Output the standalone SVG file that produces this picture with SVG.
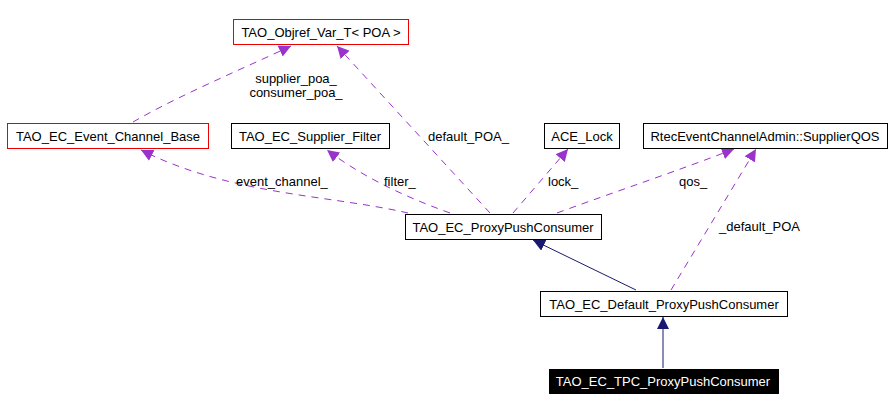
<svg xmlns="http://www.w3.org/2000/svg" width="892" height="411" viewBox="0 0 892 411">
<style>
text{font-family:"Liberation Sans",Arial,sans-serif;font-size:13px;fill:#000}
.n{fill:#fff;stroke:#000;stroke-width:1}
.r{fill:#fff;stroke:#e00;stroke-width:1}
.d{fill:none;stroke:#9a32cd;stroke-dasharray:7,6;stroke-width:1}
.s{fill:none;stroke:#191970;stroke-width:1}
</style>
<defs>
<marker id="pa" viewBox="0 0 10 10" refX="10" refY="5" markerWidth="12" markerHeight="12" markerUnits="userSpaceOnUse" orient="auto"><path d="M0,0L10,5L0,10z" fill="#9a32cd"/></marker>
<marker id="na" viewBox="0 0 10 10" refX="10" refY="5" markerWidth="12" markerHeight="12" markerUnits="userSpaceOnUse" orient="auto"><path d="M0,0L10,5L0,10z" fill="#191970"/></marker>
</defs>
<rect width="892" height="411" fill="#fff"/>
<g id="edges">
<path class="d" d="M133,122 C180,95 240,70 291,46" marker-end="url(#pa)"/>
<path class="d" d="M408,213 C330,195 230,195 141,150" marker-end="url(#pa)"/>
<path class="d" d="M450,213 C400,195 360,175 327,150" marker-end="url(#pa)"/>
<path class="d" d="M490,213 L337,46" marker-end="url(#pa)"/>
<path class="d" d="M513,213 L568,149" marker-end="url(#pa)"/>
<path class="d" d="M557,213 C620,190 680,170 734,149" marker-end="url(#pa)"/>
<path class="d" d="M671,290 L756,149" marker-end="url(#pa)"/>
<path class="s" d="M636,290 L533,240" marker-end="url(#na)"/>
<path class="s" d="M663,368 L663,317" marker-end="url(#na)"/>
<text x="296" y="83" text-anchor="middle">supplier_poa_</text>
<text x="296" y="97" text-anchor="middle">consumer_poa_</text>
<text x="236" y="186">event_channel_</text>
<text x="384" y="186">filter_</text>
<text x="428" y="141">default_POA_</text>
<text x="548" y="186">lock_</text>
<text x="679" y="186">qos_</text>
<text x="719" y="231">_default_POA</text>
</g>
<g id="objref"><rect class="r" x="233.5" y="19.5" width="175" height="25"/><text x="321" y="37" text-anchor="middle">TAO_Objref_Var_T&lt; POA &gt;</text></g>
<g id="ecbase"><rect class="r" x="7.5" y="123.5" width="201" height="25"/><text x="108" y="141" text-anchor="middle">TAO_EC_Event_Channel_Base</text></g>
<g id="filter"><rect class="n" x="231.5" y="123.5" width="158" height="25"/><text x="310" y="141" text-anchor="middle">TAO_EC_Supplier_Filter</text></g>
<g id="lock"><rect class="n" x="544.5" y="123.5" width="75" height="25"/><text x="582" y="141" text-anchor="middle">ACE_Lock</text></g>
<g id="qos"><rect class="n" x="643.5" y="123.5" width="244" height="25"/><text x="765" y="141" text-anchor="middle">RtecEventChannelAdmin::SupplierQOS</text></g>
<g id="proxy"><rect class="n" x="405.5" y="214.5" width="196" height="25"/><text x="503" y="232" text-anchor="middle">TAO_EC_ProxyPushConsumer</text></g>
<g id="default"><rect class="n" x="540.5" y="291.5" width="247" height="25"/><text x="664" y="309" text-anchor="middle">TAO_EC_Default_ProxyPushConsumer</text></g>
<g id="tpc"><rect x="549" y="369" width="230" height="25" fill="#000"/><text x="663" y="386" text-anchor="middle" style="fill:#fff">TAO_EC_TPC_ProxyPushConsumer</text></g>
</svg>
